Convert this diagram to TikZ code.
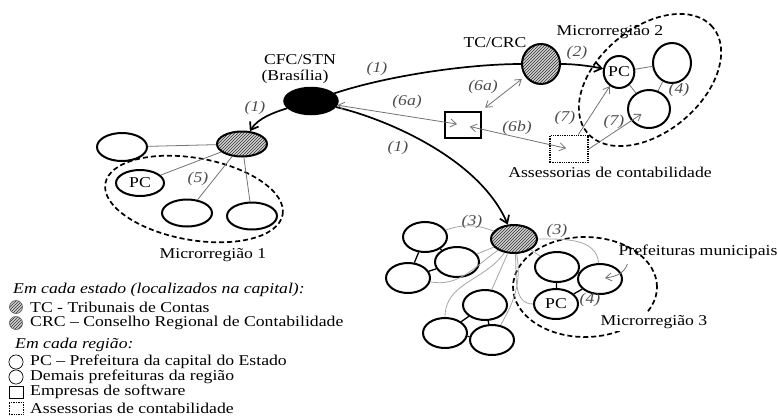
\documentclass[tikz,border=0pt]{standalone}
\usepackage{fontspec}
\setmainfont{Liberation Serif}[FakeStretch=1.18]
\usetikzlibrary{shapes.geometric}
\usetikzlibrary{patterns}
\usetikzlibrary{arrows.meta}
\usetikzlibrary{positioning}
\tikzstyle{relation} = [draw=black!55, line width=0.8pt]
\tikzstyle{faint} = [draw=black!35, line width=0.8pt]
\tikzstyle{neighbour} = [draw=black, line width=1.3pt]
\tikzstyle{flow} = [draw=black, line width=1.7pt, -{Straight Barb[length=7pt,width=10pt]}]
\tikzstyle{region} = [draw, ellipse, dash pattern=on 5pt off 3pt, line width=1.7pt]
\tikzstyle{tag} = [font=\itshape, text=black!70, inner sep=1pt]

\begin{document}
\fontsize{15}{17}\selectfont
\begin{tikzpicture}[x=1pt, y=-1pt, >={Straight Barb[length=6pt,width=8pt]},
    city node/.style={ellipse, draw, line width=2pt, inner sep=0pt, minimum width=44pt, minimum height=30pt},
    court node/.style={city node, pattern=north east lines, pattern color=black!80, preaction={fill=gray!35}},
    office node/.style={rectangle, draw, line width=1.3pt, inner sep=0pt, minimum width=36pt, minimum height=26pt},
    legend node/.style={anchor=west, inner sep=0pt}]
  \useasboundingbox (0,0) rectangle (778,416);

  \node[ellipse, draw, fill=black, line width=1.5pt, inner sep=0pt, minimum width=54pt, minimum height=27pt] (1) at (311,101) {};
  \node (1a) at (300,60) {CFC/STN};
  \node (1b) at (295,77) {(Brasília)};

  % microrregiao 2
  \node[court node, minimum width=38pt, minimum height=40pt] (2) at (541,64) {};
  \node (2a) at (495,43) {TC/CRC};
  \node[city node, minimum width=30pt, minimum height=32pt] (3) at (619,72) {PC};
  \node[city node, minimum width=38pt, minimum height=40pt] (4) at (672,63) {};
  \node[city node, minimum width=42pt, minimum height=38pt] (5) at (649,109) {};
  \node[region, minimum width=164pt, minimum height=104pt, rotate=40] (r2) at (650,80) {};
  \node (r2a) at (610,32) {Microrregião 2};
  \node[office node] (6) at (463,125) {};
  \node[office node, densely dotted, line width=1.6pt, minimum width=38pt, minimum height=27pt] (7) at (569,149) {};
  \node (7a) at (610,172) {Assessorias de contabilidade};

  % microrregiao 1
  \node[court node, minimum width=50pt, minimum height=25pt] (8) at (242,144) {};
  \node[city node, minimum width=50pt, minimum height=28pt] (9) at (122,147) {};
  \node[city node, minimum width=48pt, minimum height=26pt] (10) at (140,183) {PC};
  \node[city node, minimum width=50pt, minimum height=27pt] (11) at (187,213) {};
  \node[city node, minimum width=50pt, minimum height=27pt] (12) at (252,216) {};
  \node[region, minimum width=180pt, minimum height=82pt, rotate=-10] (r1) at (194,199) {};
  \node (r1a) at (213,255) {Microrregião 1};

  % microrregiao 3
  \node[court node, minimum width=46pt, minimum height=28pt] (13) at (514,239) {};
  \node[city node] (14) at (425,237) {};
  \node[city node] (15) at (457,262) {};
  \node[city node] (16) at (408,278) {};
  \node[city node] (17) at (485,305) {};
  \node[city node] (18) at (445,333) {};
  \node[city node] (19) at (492,340) {};
  \node[city node] (20) at (557,267) {};
  \node[city node] (21) at (600,279) {};
  \node[city node] (22) at (556,304) {PC};
  \node[region, minimum width=144pt, minimum height=100pt] (r3) at (585,287) {};
  \node[fill=white, inner sep=2pt] (r3a) at (654,322) {Microrregião 3};
  \node (24) at (698,252) {Prefeituras municipais};

  \draw[flow] (1) .. controls (275,112) and (258,118) .. (8);
  \draw[flow] (1) .. controls (390,120) and (480,160) .. (13);
  \draw[line width=1.7pt] (1) .. controls (390,75) and (470,64) .. (2);
  \draw[flow] (2) .. controls (575,64) and (590,66) .. (3);

  \path[relation]
  (3) edge (4)
  (4) edge (5)
  (3) edge (5)
  (8) edge (9)
  (8) edge (10)
  (8) edge (11)
  (8) edge (12)

  (1) edge[<->, shorten >=6pt] (6.center)
  (6) edge[<->, shorten <=6pt, shorten >=4pt] (2)
  (6.center) edge[<->, shorten <=7pt, shorten >=3pt] (7.center)
  (7) edge[->] (3)
  (7.east) edge[->, shorten >=9pt] (5.center)
  ([xshift=14pt]24.south west) edge[->, out=-110, in=10, shorten >=5pt] (21.center)
  ;

  \path[faint]
  (13) edge[bend right=20] (14)
  (13) edge (15)
  (13) edge[out=215, in=-10] (16)
  (13) edge[out=235, in=90] (18)
  (13) edge (17)
  (13) edge[out=-80, in=60] (19)
  (13) edge (20)
  (13) edge[out=-85, in=180] (22)
  (13.east) edge[out=0, in=95] (21)
  ;

  \path[neighbour]
  (14) edge (15) (14) edge (16) (15) edge (16)
  (17) edge (18) (17) edge (19) (18) edge (19)
  (20) edge (21) (20) edge (22) (21) edge (22)
  ;

  \node[tag] (t1) at (377,69) {(1)};
  \node[tag] (t2) at (255,108) {(1)};
  \node[tag] (t3) at (398,148) {(1)};
  \node[tag] (t4) at (577,53) {(2)};
  \node[tag] (t5) at (407,102) {(6a)};
  \node[tag] (t6) at (483,87) {(6a)};
  \node[tag] (t7) at (517,128) {(6b)};
  \node[tag] (t8) at (565,118) {(7)};
  \node[tag] (t9) at (614,122) {(7)};
  \node[tag] (t10) at (679,90) {(4)};
  \node[tag] (t11) at (198,179) {(5)};
  \node[tag] (t12) at (472,222) {(3)};
  \node[tag] (t13) at (557,231) {(3)};
  \node[tag] (t14) at (590,300) {(4)};

  % legenda
  \node[legend node, font=\itshape] (L1) at (13,290) {Em cada estado (localizados na capital):};
  \node[court node, circle, draw=black!60, line width=0.7pt, minimum size=13pt] (L2i) at (16,307) {};
  \node[legend node] (L2) at (30,307) {TC - Tribunais de Contas};
  \node[court node, circle, draw=black!60, line width=0.7pt, minimum size=13pt] (L3i) at (16,323) {};
  \node[legend node] (L3) at (30,323) {CRC – Conselho Regional de Contabilidade};
  \node[legend node, font=\itshape] (L4) at (15,345) {Em cada região:};
  \node[circle, draw, line width=0.7pt, minimum size=13pt] (L5i) at (16,362) {};
  \node[legend node] (L5) at (30,362) {PC – Prefeitura da capital do Estado};
  \node[circle, draw, line width=0.7pt, minimum size=13pt] (L6i) at (16,377) {};
  \node[legend node] (L6) at (30,377) {Demais prefeituras da região};
  \node[rectangle, draw, line width=0.7pt, minimum width=14pt, minimum height=12pt] (L7i) at (16,392) {};
  \node[legend node] (L7) at (30,392) {Empresas de software};
  \node[rectangle, draw, densely dotted, line width=0.7pt, minimum width=14pt, minimum height=12pt] (L8i) at (16,408) {};
  \node[legend node] (L8) at (30,408) {Assessorias de contabilidade};
\end{tikzpicture}
\end{document}
